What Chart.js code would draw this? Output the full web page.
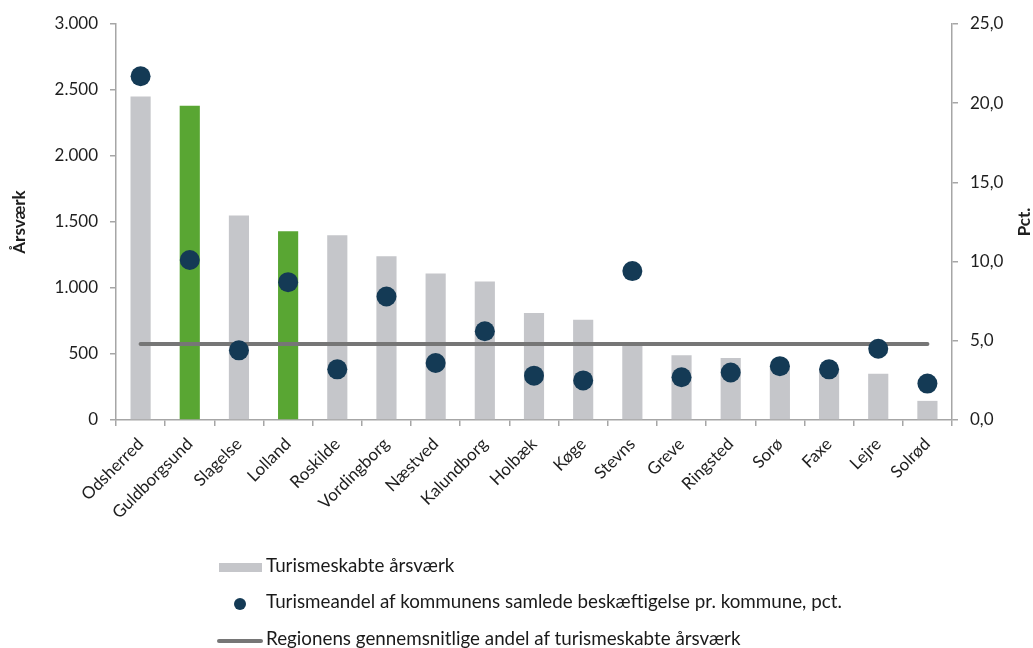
<!DOCTYPE html>
<html>
<head>
<meta charset="utf-8">
<script src="https://cdn.jsdelivr.net/npm/chart.js"></script>
<style>
  body { margin: 0; background: #fff; font-family: Lato, sans-serif; }
  #wrap { position: relative; width: 1033px; height: 648px; }
  .lg-text { position: absolute; left: 266px; font-size: 18.8px; line-height: 20px; color: #1a1a1a; white-space: nowrap; }
  .lg-sw { position: absolute; }
</style>
</head>
<body>
<div id="wrap">
  <canvas id="chart" width="1033" height="648"></canvas>
  <div id="legend"></div>
</div>
<script>
// Turisme i regionens kommuner
const kommuner = ['Odsherred', 'Guldborgsund', 'Slagelse', 'Lolland', 'Roskilde', 'Vordingborg', 'Næstved',
  'Kalundborg', 'Holbæk', 'Køge', 'Stevns', 'Greve', 'Ringsted', 'Sorø', 'Faxe', 'Lejre', 'Solrød'];
const aarsvaerk = [2450, 2380, 1550, 1430, 1400, 1240, 1110, 1050, 810, 760, 580, 490, 470, 420, 390, 350, 145];
const andelPct = [21.7, 10.1, 4.4, 8.7, 3.2, 7.8, 3.6, 5.6, 2.8, 2.5, 9.4, 2.7, 3.0, 3.4, 3.2, 4.5, 2.3];
const regionGennemsnit = 4.8;
const fremhaevede = ['Guldborgsund', 'Lolland'];
const venstreTicks = [0, 500, 1000, 1500, 2000, 2500, 3000];
const hoejreTicks = [0, 5, 10, 15, 20, 25];

const labelBar = 'Turismeskabte årsværk';
const labelDot = 'Turismeandel af kommunens samlede beskæftigelse pr. kommune, pct.';
const labelLine = 'Regionens gennemsnitlige andel af turismeskabte årsværk';

const GREY = '#c5c6ca';
const GREEN = '#59a633';
const NAVY = '#143a55';
const LINE = '#767676';
const AXIS = '#a6a6a6';
const TXT = '#1e1e1e';

function thousands(v) {
  return String(v).replace(/\B(?=(\d{3})+(?!\d))/g, '.');
}

// right axis title reads bottom-to-top, so draw it ourselves
const pctTitle = {
  id: 'pctTitle',
  afterDraw(chart) {
    const ctx = chart.ctx;
    const area = chart.chartArea;
    ctx.save();
    ctx.translate(1025, (area.top + area.bottom) / 2);
    ctx.rotate(-Math.PI / 2);
    ctx.font = 'bold 17px Lato';
    ctx.fillStyle = TXT;
    ctx.textAlign = 'center';
    ctx.textBaseline = 'middle';
    ctx.fillText('Pct.', 0, 0);
    ctx.restore();
  }
};

const chart = new Chart(document.getElementById('chart'), {
  data: {
    labels: kommuner,
    datasets: [
      {
        type: 'line',
        label: labelDot,
        data: andelPct,
        yAxisID: 'y1',
        showLine: false,
        pointRadius: 10,
        pointHoverRadius: 10,
        pointBackgroundColor: NAVY,
        pointBorderWidth: 0,
        order: 0
      },
      {
        type: 'line',
        label: labelLine,
        data: [{ x: kommuner[0], y: regionGennemsnit }, { x: kommuner[kommuner.length - 1], y: regionGennemsnit }],
        yAxisID: 'y1',
        borderColor: LINE,
        borderWidth: 4,
        borderCapStyle: 'round',
        pointRadius: 0,
        order: 1
      },
      {
        type: 'bar',
        label: labelBar,
        data: aarsvaerk,
        yAxisID: 'y',
        backgroundColor: kommuner.map(k => fremhaevede.includes(k) ? GREEN : GREY),
        barPercentage: 0.41,
        categoryPercentage: 1,
        order: 2
      }
    ]
  },
  options: {
    responsive: false,
    animation: false,
    layout: { padding: { top: 24, left: 0, right: 0, bottom: 0 } },
    plugins: { legend: { display: false }, tooltip: { enabled: false } },
    scales: {
      x: {
        afterFit(s) { s.height = 228; },
        grid: { offset: true, drawOnChartArea: false, tickLength: 6, color: AXIS, lineWidth: 1.5 },
        border: { color: AXIS, width: 1.5 },
        ticks: { minRotation: 45, maxRotation: 45, autoSkip: false, padding: 8, color: TXT, font: { family: 'Lato', size: 17 } }
      },
      y: {
        position: 'left',
        min: 0, max: 3000,
        afterFit(s) { s.width = 116; },
        afterBuildTicks(s) { s.ticks = venstreTicks.map(v => ({ value: v })); },
        grid: { drawOnChartArea: false, tickLength: 6, color: AXIS, lineWidth: 1.5 },
        border: { color: AXIS, width: 1.5 },
        ticks: { padding: 12, color: TXT, font: { family: 'Lato', size: 17 }, callback: v => thousands(v) },
        title: { display: true, text: 'Årsværk', color: TXT, font: { family: 'Lato', size: 17, weight: 'bold' }, padding: { top: 9, bottom: 0 } }
      },
      y1: {
        position: 'right',
        min: 0, max: 25,
        afterFit(s) { s.width = 1033 - 952; },
        afterBuildTicks(s) { s.ticks = hoejreTicks.map(v => ({ value: v })); },
        grid: { drawOnChartArea: false, tickLength: 6, color: AXIS, lineWidth: 1.5 },
        border: { color: AXIS, width: 1.5 },
        ticks: { padding: 12, color: TXT, font: { family: 'Lato', size: 17 }, callback: v => v.toFixed(1).replace('.', ',') }
      }
    }
  },
  plugins: [pctTitle]
});

// legend, listed vertically under the chart as in the original
const legend = document.getElementById('legend');
const rows = [
  { text: labelBar, top: 555, sw: `left:219px;top:563px;width:43px;height:9px;background:${GREY}` },
  { text: labelDot, top: 591, sw: `left:234px;top:598px;width:12px;height:12px;border-radius:50%;background:${NAVY}` },
  { text: labelLine, top: 628, sw: `left:217px;top:639px;width:46px;height:4px;border-radius:2px;background:${LINE}` }
];
rows.forEach(r => {
  const sw = document.createElement('span');
  sw.className = 'lg-sw';
  sw.style.cssText = r.sw;
  const t = document.createElement('span');
  t.className = 'lg-text';
  t.style.top = r.top + 'px';
  t.textContent = r.text;
  legend.appendChild(sw);
  legend.appendChild(t);
});
</script>
</body>
</html>
